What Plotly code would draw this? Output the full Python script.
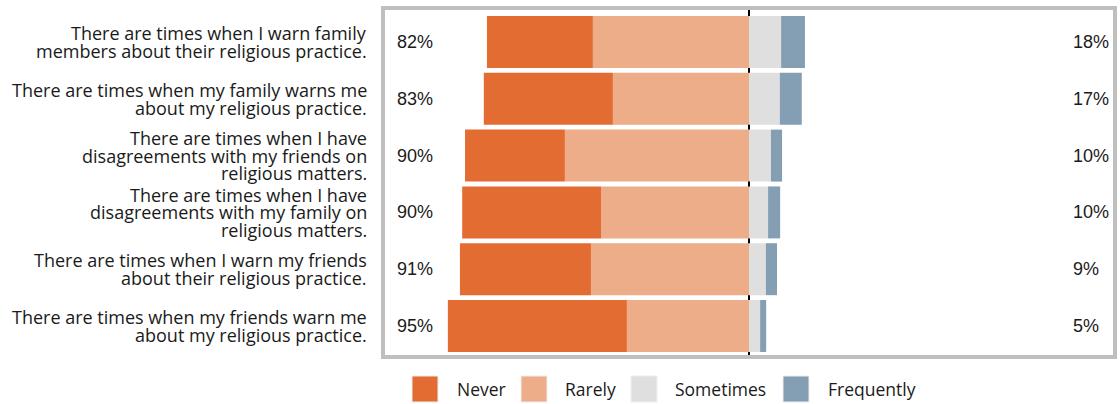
import plotly.graph_objects as go

# ---- data ----
statements = [
    "There are times when I warn family<br>members about their religious practice.",
    "There are times when my family warns me<br>about my religious practice.",
    "There are times when I have<br>disagreements with my friends on<br>religious matters.",
    "There are times when I have<br>disagreements with my family on<br>religious matters.",
    "There are times when I warn my friends<br>about their religious practice.",
    "There are times when my friends warn me<br>about my religious practice.",
]
never = [33.3, 40.6, 31.4, 43.7, 41.2, 56.3]
rarely = [49.1, 42.8, 57.9, 46.5, 49.7, 38.4]
sometimes = [10.1, 9.7, 6.9, 6.0, 5.3, 3.5]
frequently = [7.5, 6.9, 3.5, 3.8, 3.5, 1.9]
left_labels = ["82%", "83%", "90%", "90%", "91%", "95%"]
right_labels = ["18%", "17%", "10%", "10%", "9%", "5%"]
categories = ["Never", "Rarely", "Sometimes", "Frequently"]
colors = {"Never": "#E36C33", "Rarely": "#EDAD88", "Sometimes": "#DFDFDF", "Frequently": "#849EB3"}

# ---- layout geometry ----
W, H = 1120, 404
ML, MR, MT, MB = 383, 5, 8, 47
PW = W - ML - MR
PH = H - MT - MB
rows = list(range(len(statements)))

def px_to_paper_x(px):
    return (px - ML) / PW

def px_to_paper_y(py):
    return (H - MB - py) / PH

fig = go.Figure()
fig.add_trace(go.Bar(y=rows, x=[-v for v in rarely], orientation="h", name="Rarely",
                     marker=dict(color=colors["Rarely"], line=dict(width=0)), width=0.915, showlegend=False))
fig.add_trace(go.Bar(y=rows, x=[-v for v in never], orientation="h", name="Never",
                     marker=dict(color=colors["Never"], line=dict(width=0)), width=0.915, showlegend=False))
fig.add_trace(go.Bar(y=rows, x=sometimes, orientation="h", name="Sometimes",
                     marker=dict(color=colors["Sometimes"], line=dict(width=0)), width=0.915, showlegend=False))
fig.add_trace(go.Bar(y=rows, x=frequently, orientation="h", name="Frequently",
                     marker=dict(color=colors["Frequently"], line=dict(width=0)), width=0.915, showlegend=False))

annotations = []
label_font = dict(family="Open Sans", size=18, color="#1a1a1a")
pct_font = dict(family="Liberation Sans, Arial", size=18, color="#1a1a1a")
pitch = 17.5
for r, text in zip(rows, statements):
    lines = text.split("<br>")
    n = len(lines)
    for i, ln in enumerate(lines):
        annotations.append(dict(x=0, xref="paper", xshift=-14, xanchor="right",
                                y=r, yref="y", yanchor="middle",
                                yshift=((n - 1) / 2 - i) * pitch,
                                text=ln, showarrow=False, font=label_font))
for r, lt, rt in zip(rows, left_labels, right_labels):
    annotations.append(dict(x=px_to_paper_x(395), xref="paper", xanchor="left", y=r, yref="y",
                            yanchor="middle", text=lt, showarrow=False, font=pct_font))
    annotations.append(dict(x=px_to_paper_x(1071), xref="paper", xanchor="left", y=r, yref="y",
                            yanchor="middle", text=rt, showarrow=False, font=pct_font))

# custom legend
shapes = [dict(type="rect", xref="paper", yref="paper", x0=0, x1=1, y0=0, y1=1,
               line=dict(color="#BFBFBF", width=4), layer="above")]
swatch_x = [412, 521, 631, 783]
text_x = [455, 563, 673, 826]
for cat, sx, tx in zip(categories, swatch_x, text_x):
    shapes.append(dict(type="rect", xref="paper", yref="paper",
                       x0=px_to_paper_x(sx), x1=px_to_paper_x(sx + 26),
                       y0=px_to_paper_y(402), y1=px_to_paper_y(376),
                       fillcolor=colors[cat], line=dict(color="#EEEEEE", width=1)))
    annotations.append(dict(x=px_to_paper_x(tx), xref="paper", xanchor="left",
                            y=px_to_paper_y(389), yref="paper", yanchor="middle",
                            text=cat, showarrow=False,
                            font=dict(family="Open Sans", size=17.5, color="#1a1a1a")))

fig.update_layout(
    width=W, height=H,
    margin=dict(l=ML, r=MR, t=MT, b=MB, pad=0),
    barmode="relative",
    bargap=0.085,
    paper_bgcolor="white", plot_bgcolor="white",
    showlegend=False,
    annotations=annotations,
    shapes=shapes,
    xaxis=dict(range=[-115.1, 115.1], showgrid=False, showticklabels=False, ticks="",
               zeroline=True, zerolinecolor="black", zerolinewidth=2, fixedrange=True),
    yaxis=dict(range=[5.546, -0.599], showgrid=False, showticklabels=False, ticks="",
               zeroline=False, fixedrange=True),
)

fig.write_html("out.html", config={"displayModeBar": False},
               post_script="document.body.style.margin='0';document.body.style.overflow='hidden';")
